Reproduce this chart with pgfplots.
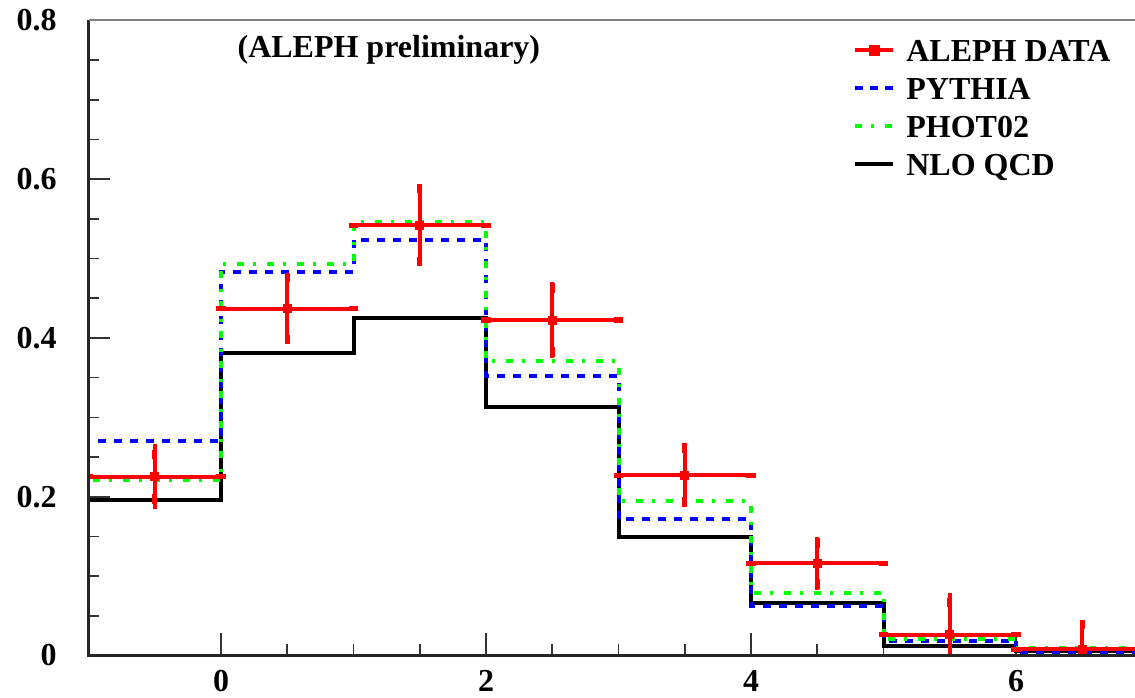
\documentclass[border=0pt]{standalone}
\usepackage{fontspec}
\setmainfont{Liberation Serif}
\usepackage{pgfplots}
\usepackage{pgfplotstable}
\pgfplotsset{compat=1.18}

\pgfplotstableread{
x y stat tot
-0.5 0.225 0.028 0.041
0.5 0.437 0.039 0.040
1.5 0.542 0.046 0.049
2.5 0.4225 0.040 0.048
3.5 0.227 0.034 0.037
4.5 0.116 0.026 0.033
5.5 0.026 0.041 0.053
6.5 0.008 0.031 0.034
}\alephdata

\pgfplotstableread{
x y
-1 0
-1 0.196
0 0.381
1 0.4255
2 0.313
3 0.1496
4 0.066
5 0.012
6 0.006
7 0.006
}\nlo

\pgfplotstableread{
x y
-1 0
-1 0.270
0 0.4826
1 0.523
2 0.352
3 0.1715
4 0.062
5 0.0187
6 0.003
7 0.003
}\pythia

\pgfplotstableread{
x y
-1 0
-1 0.221
0 0.4927
1 0.546
2 0.371
3 0.1946
4 0.079
5 0.021
6 0.010
7 0.010
}\phot

\newcommand{\ff}{\bfseries\fontsize{16bp}{19bp}\selectfont}
\pgfplotsset{redleg/.style={legend image code/.code={%
  \draw[red, line width=2bp] (0bp,0bp) -- (19bp,0bp);
  \fill[red] (7bp,-2.5bp) rectangle (12bp,2.5bp);}}}

\begin{document}
\begin{tikzpicture}
\begin{axis}[
  name=ax,
  scale only axis,
  width=523.25bp, height=317.6bp,
  xmin=-1, xmax=6.898, ymin=0, ymax=0.8,
  axis line style={draw=none},
  xtick={0,2,4,6}, ytick={0,0.2,0.4,0.6,0.8},
  minor x tick num=3, minor y tick num=3,
  xtick pos=bottom, ytick pos=left,
  tick align=inside,
  major tick length=11bp, minor tick length=5.5bp,
  every tick/.style={black!80, line width=0.8bp},
  tick label style={font=\ff, inner sep=0pt},
  /pgf/number format/assume math mode=true,
  yticklabel style={/pgf/number format/fixed},
  xticklabel shift=7.25bp,
  yticklabel shift=15.75bp,
  legend style={at={(rel axis cs:0.7305,0.9706)}, anchor=north west,
    draw=none, fill=none, inner sep=0pt, row sep=8bp, column sep=5.5bp,
    nodes={inner sep=0pt, text height=11bp, text depth=0pt}, font=\ff},
  legend cell align=left,
  legend image code/.code={\draw[#1] (0bp,0bp) -- (19bp,0bp);},
]
\addplot[const plot mark left, black, line width=2bp, forget plot] table[x=x,y=y] {\nlo};
\addplot[const plot mark left, blue, line width=2bp, dash pattern=on 4bp off 4bp, forget plot] table[x=x,y=y] {\pythia};
\addplot[const plot mark left, green, line width=2bp, dash pattern=on 3.5bp off 4.5bp on 1.5bp off 5.5bp, forget plot] table[x=x,y=y] {\phot};

\addplot[forget plot, only marks, mark=none,
  error bars/.cd, y dir=both, y explicit, error mark=none,
  error bar style={red, line width=2bp}] table[x=x,y=y,y error=tot] {\alephdata};
\addplot[forget plot, red, only marks, mark=square*, mark size=2bp,
  error bars/.cd, x dir=both, x fixed=0.5, y dir=both, y explicit,
  error mark=-, error mark options={red, line width=2.6bp, mark size=2.4bp},
  error bar style={red, line width=2bp}] table[x=x,y=y,y error=stat] {\alephdata};

\addlegendimage{redleg}
\addlegendentry{ALEPH DATA}
\addlegendimage{blue, line width=2bp, dash pattern=on 4bp off 3.5bp}
\addlegendentry{PYTHIA}
\addlegendimage{green, line width=2bp, dash pattern=on 3.5bp off 4.5bp on 1.5bp off 5.5bp}
\addlegendentry{PHOT02}
\addlegendimage{black, line width=2bp}
\addlegendentry{NLO QCD}

\node[font=\ff] at (rel axis cs:0.287,0.9535) {(ALEPH preliminary)};
\end{axis}
\draw[black!85, line width=1.2bp] (ax.north west) -- (ax.south west) -- (ax.south east);
\draw[black!50, line width=1bp] (ax.north west) -- (ax.north east);
\pgfresetboundingbox
\path (ax.south west) ++(-44.25bp,-21.25bp) coordinate (bbl);
\path (ax.south west) ++(523.25bp,327.75bp) coordinate (btr);
\useasboundingbox (bbl) rectangle (btr);
\end{tikzpicture}
\end{document}
